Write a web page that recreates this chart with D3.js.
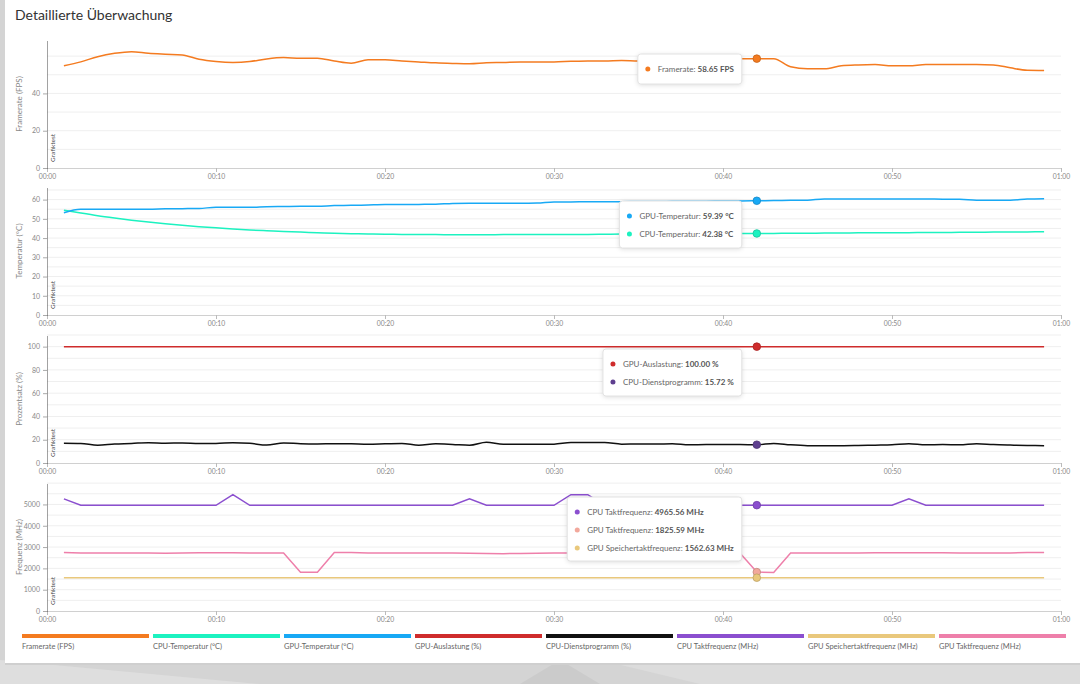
<!DOCTYPE html>
<html lang="de">
<head>
<meta charset="UTF-8">
<title>Detaillierte Überwachung</title>
<script src="https://d3js.org/d3.v7.min.js"></script>
<style>
  body {margin: 0; background-color: #d6d6d6; overflow: hidden;}
  text {font-family: Lato, "Open Sans", sans-serif;}
</style>
</head>
<body>
<div id="chart"></div>
<script>
// Zeitachse in Sekunden (Messpunkte 00:01 .. 00:59)
var seconds = [1,2,3,4,5,6,7,8,9,10,11,12,13,14,15,16,17,18,19,20,21,22,23,24,25,26,27,28,29,30,
  31,32,33,34,35,36,37,38,39,40,41,42,43,44,45,46,47,48,49,50,51,52,53,54,55,56,57,58,59];

var framerate = [54.8,56.9,59.7,61.5,62.4,61.5,61.0,60.6,58.3,57.1,56.6,57.1,58.5,59.2,58.9,58.9,57.4,56.2,58.0,58.0,
  57.4,56.9,56.4,56.1,55.9,56.4,56.6,56.9,56.9,56.9,57.2,57.4,57.4,57.7,57.4,58.2,58.4,58.5,58.6,58.5,
  58.6,58.65,58.6,54.3,53.2,53.2,54.8,55.3,55.5,54.8,54.8,55.5,55.5,55.5,55.5,55.3,53.7,52.4,52.3];

var gpuTemp = [53.2,55.0,55.0,55.0,55.0,55.0,55.2,55.3,55.4,56.0,56.0,56.0,56.3,56.4,56.5,56.5,56.9,57.0,57.2,57.4,
  57.4,57.5,57.6,58.0,58.1,58.1,58.1,58.1,58.2,58.8,58.8,58.9,58.9,58.9,59.0,59.0,59.1,59.2,59.2,59.3,
  59.3,59.39,59.5,59.6,59.7,60.3,60.3,60.3,60.3,60.3,60.3,60.3,60.2,60.2,59.7,59.7,59.7,60.3,60.5];

var cpuTemp = [54.5,53.0,51.6,50.4,49.3,48.3,47.4,46.6,45.9,45.3,44.7,44.2,43.8,43.4,43.1,42.8,42.5,42.3,42.1,42.0,
  41.9,41.8,41.8,41.7,41.7,41.7,41.8,41.8,41.8,41.8,41.9,41.9,42.0,42.1,42.1,42.2,42.2,42.3,42.3,42.3,
  42.4,42.38,42.4,42.5,42.5,42.6,42.6,42.7,42.7,42.8,42.8,42.9,42.9,43.0,43.0,43.1,43.1,43.2,43.3];

var gpuLoad = [100,100,100,100,100,100,100,100,100,100,100,100,100,100,100,100,100,100,100,100,
  100,100,100,100,100,100,100,100,100,100,100,100,100,100,100,100,100,100,100,100,
  100,100,100,100,100,100,100,100,100,100,100,100,100,100,100,100,100,100,100];

var cpuUtil = [17.0,16.8,15.3,16.3,16.8,17.5,17.0,17.2,16.8,16.8,17.4,16.9,15.4,17.2,16.6,16.4,16.6,16.5,16.2,16.5,
  16.8,15.3,16.5,16.0,15.3,17.9,16.2,16.2,16.2,16.2,17.6,17.6,17.6,16.2,16.3,16.3,16.5,15.6,15.8,15.8,
  15.8,15.72,16.8,15.6,14.9,14.8,14.8,15.0,15.3,15.6,16.5,15.6,15.9,15.6,16.5,15.8,15.4,15.1,14.8];

var cpuClock = [5260,4960,4960,4960,4960,4960,4960,4960,4960,4960,5460,4960,4960,4960,4960,4960,4960,4960,4960,4960,
  4960,4960,4960,4960,5260,4960,4960,4960,4960,4960,5460,5460,4960,4960,4960,4960,4960,4960,4960,4960,
  4960,4965.56,4960,4960,4960,4960,4960,4960,4960,4960,5260,4960,4960,4960,4960,4960,4960,4960,4960];

var gpuClock = [2745,2720,2720,2720,2720,2720,2715,2720,2730,2730,2730,2725,2720,2720,1820,1820,2745,2740,2720,2720,
  2720,2720,2720,2720,2715,2700,2690,2700,2710,2720,2725,2725,2725,2725,2725,2720,2720,2720,2720,2720,
  2720,1825.59,1810,2725,2725,2725,2725,2725,2730,2730,2730,2730,2730,2725,2725,2720,2725,2740,2745];

var gpuMemClock = [1562.63,1562.63,1562.63,1562.63,1562.63,1562.63,1562.63,1562.63,1562.63,1562.63,
  1562.63,1562.63,1562.63,1562.63,1562.63,1562.63,1562.63,1562.63,1562.63,1562.63,
  1562.63,1562.63,1562.63,1562.63,1562.63,1562.63,1562.63,1562.63,1562.63,1562.63,
  1562.63,1562.63,1562.63,1562.63,1562.63,1562.63,1562.63,1562.63,1562.63,1562.63,
  1562.63,1562.63,1562.63,1562.63,1562.63,1562.63,1562.63,1562.63,1562.63,1562.63,
  1562.63,1562.63,1562.63,1562.63,1562.63,1562.63,1562.63,1562.63,1562.63];

var timeTicks = [0,10,20,30,40,50,60];
var timeLabels = ["00:00","00:10","00:20","00:30","00:40","00:50","01:00"];
var fpsTicks = [0,20,40];
var tempTicks = [0,10,20,30,40,50,60];
var percentTicks = [0,20,40,60,80,100];
var freqTicks = [0,1000,2000,3000,4000,5000];
var legendNames = ["Framerate (FPS)","CPU-Temperatur (°C)","GPU-Temperatur (°C)","GPU-Auslastung (%)",
  "CPU-Dienstprogramm (%)","CPU Taktfrequenz (MHz)","GPU Speichertaktfrequenz (MHz)","GPU Taktfrequenz (MHz)"];
var hoverSecond = 42;

            // orange    tuerkis    blau       rot        schwarz    lila       gold       rosa
var colors = ["#f47b20","#1cf2c0","#18a9f5","#cf2c2c","#111111","#8b4fcf","#e9c87c","#ee7faa"];

var W = 1080, H = 684;
var svg = d3.select("#chart").append("svg").attr("width", W).attr("height", H);

// Hintergrund (grau, leichte Polygone) und weisse Karte
svg.append("rect").attr("width", W).attr("height", H).attr("fill", "#d4d4d4");
svg.append("polygon").attr("points", "0,660 260,684 0,684").attr("fill", "#dedede");
svg.append("polygon").attr("points", "560,660 600,684 520,684").attr("fill", "#cbcbcb");
svg.append("polygon").attr("points", "600,660 1080,660 1080,684 700,684").attr("fill", "#dcdcdc");
svg.append("rect").attr("x", 5).attr("y", -4).attr("width", 1080).attr("height", 668)
    .attr("fill", "#cfcfcf").attr("transform", "translate(0,1)");
svg.append("rect").attr("x", 5).attr("y", -4).attr("width", 1080).attr("height", 667)
    .attr("fill", "#ffffff");

svg.append("text")
    .attr("x", 15).attr("y", 20)
    .attr("font-size", "14px")
    .attr("fill", "#333")
    .text("Detaillierte Überwachung");

var xScale = d3.scaleLinear().domain([0, 60]).range([47, 1061]);
var fmt = d3.format(".2f");

var panels = [
  {title: "Framerate (FPS)", bottom: 168, grid: 10, ticks: fpsTicks, curve: d3.curveMonotoneX,
   series: [{name: "Framerate", values: framerate, color: colors[0], dot: colors[0], unit: "FPS"}]},
  {title: "Temperatur (°C)", bottom: 315, grid: 5, ticks: tempTicks, curve: d3.curveMonotoneX,
   series: [{name: "GPU-Temperatur", values: gpuTemp, color: colors[2], dot: colors[2], unit: "°C"},
            {name: "CPU-Temperatur", values: cpuTemp, color: colors[1], dot: colors[1], unit: "°C"}]},
  {title: "Prozentsatz (%)", bottom: 463, grid: 10, ticks: percentTicks, curve: d3.curveMonotoneX,
   series: [{name: "GPU-Auslastung", values: gpuLoad, color: colors[3], dot: colors[3], unit: "%"},
            {name: "CPU-Dienstprogramm", values: cpuUtil, color: colors[4], dot: "#5e3f8f", unit: "%"}]},
  {title: "Frequenz (MHz)", bottom: 611, grid: 500, ticks: freqTicks, curve: d3.curveLinear,
   series: [{name: "CPU Taktfrequenz", values: cpuClock, color: colors[5], dot: colors[5], unit: "MHz"},
            {name: "GPU Taktfrequenz", values: gpuClock, color: colors[7], dot: "#f2a89c", unit: "MHz"},
            {name: "GPU Speichertaktfrequenz", values: gpuMemClock, color: colors[6], dot: colors[6], unit: "MHz"}]}
];

panels.forEach(function(p) {
  var top = p.bottom - 128;
  var yMax = d3.max(p.series, function(s) { return d3.max(s.values); }) * 1.1;
  var yScale = d3.scaleLinear().domain([0, yMax]).range([p.bottom, top]);
  var g = svg.append("g");

  // Gitterlinien
  g.selectAll("line.grid").data(d3.range(p.grid, yMax, p.grid)).enter().append("line")
      .attr("x1", xScale(0)).attr("x2", xScale(60))
      .attr("y1", function(d) { return yScale(d); })
      .attr("y2", function(d) { return yScale(d); })
      .attr("stroke", "#efefef");

  // x-Achse
  var xAxis = d3.axisBottom(xScale).tickValues(timeTicks).tickSize(4).tickPadding(2)
      .tickFormat(function(d, i) { return timeLabels[i]; });
  var gx = g.append("g").attr("transform", "translate(0," + p.bottom + ")").call(xAxis);
  gx.select(".domain").attr("stroke", "#d0d0d0");
  gx.selectAll(".tick line").attr("stroke", "#bbb");
  gx.selectAll(".tick text").attr("fill", "#888").attr("font-size", "6.8px")
      .attr("font-family", "Lato, sans-serif");

  // y-Achse
  var yAxis = d3.axisLeft(yScale).tickValues(p.ticks).tickSize(4).tickSizeOuter(0)
      .tickFormat(d3.format("d"));
  var gy = g.append("g").attr("transform", "translate(" + xScale(0) + ",0)").call(yAxis);
  gy.select(".domain").attr("stroke", "#444").attr("stroke-dasharray", "1,1");
  gy.selectAll(".tick line").attr("stroke", "#aaa");
  gy.selectAll(".tick text").attr("fill", "#888").attr("font-size", "7px")
      .attr("font-family", "Lato, sans-serif");

  g.append("text")
      .attr("transform", "translate(22," + (top + 64) + ") rotate(-90)")
      .attr("text-anchor", "middle")
      .attr("font-size", "8px")
      .attr("fill", "#888")
      .text(p.title);

  g.append("text")
      .attr("transform", "translate(" + (xScale(0) + 8) + "," + (p.bottom - 6) + ") rotate(-90)")
      .attr("font-size", "6.5px")
      .attr("fill", "#444")
      .text("Grafiktest");

  // Linien
  p.series.slice().reverse().forEach(function(s) {
    var line = d3.line()
        .x(function(d, i) { return xScale(seconds[i]); })
        .y(function(d) { return yScale(d); })
        .curve(p.curve);
    g.append("path").datum(s.values)
        .attr("d", line)
        .attr("fill", "none")
        .attr("stroke", s.color)
        .attr("stroke-width", 1.5);
  });

  // Hover-Punkte
  var hi = seconds.indexOf(hoverSecond);
  p.series.forEach(function(s) {
    g.append("circle")
        .attr("cx", xScale(hoverSecond))
        .attr("cy", yScale(s.values[hi]))
        .attr("r", 3.8)
        .attr("fill", s.dot)
        .attr("stroke", d3.color(s.dot).darker(0.6))
        .attr("stroke-width", 0.8);
  });

  // Tooltip
  var tip = g.append("g");
  var box = tip.append("rect");
  var maxLen = 0;
  p.series.forEach(function(s, i) {
    var ty = top + 14 + 15 + i * 18;
    tip.append("circle").attr("cy", ty).attr("r", 2.5).attr("fill", s.dot).attr("class", "tdot");
    var t = tip.append("text").attr("y", ty).attr("dy", "0.35em")
        .attr("font-size", "8px").attr("fill", "#666").attr("class", "ttext");
    t.append("tspan").text(s.name + ": ");
    t.append("tspan").attr("font-weight", "bold").attr("fill", "#555")
        .text(fmt(s.values[hi]) + " " + s.unit);
    maxLen = Math.max(maxLen, t.node().getComputedTextLength());
  });
  var boxW = maxLen + 28;
  var left = xScale(hoverSecond) - 15 - boxW;
  box.attr("x", left).attr("y", top + 14)
      .attr("width", boxW).attr("height", 13 + p.series.length * 17)
      .attr("rx", 3)
      .attr("fill", "#fff")
      .attr("stroke", "#e2e2e2")
      .style("filter", "drop-shadow(0px 1px 2px rgba(0,0,0,0.12))");
  tip.selectAll(".tdot").attr("cx", left + 10);
  tip.selectAll(".ttext").attr("x", left + 20);
});

// Legende
svg.selectAll("rect.legend").data(legendNames).enter().append("rect")
    .attr("class", "legend")
    .attr("x", function(d, i) { return 22 + i * 131; })
    .attr("y", 634)
    .attr("width", 127)
    .attr("height", 4)
    .attr("fill", function(d, i) { return colors[i]; });

svg.selectAll("text.legend").data(legendNames).enter().append("text")
    .attr("class", "legend")
    .attr("x", function(d, i) { return 22 + i * 131; })
    .attr("y", 649)
    .attr("font-size", "7.5px")
    .attr("fill", "#666")
    .text(function(d) { return d; });
</script>
</body>
</html>
